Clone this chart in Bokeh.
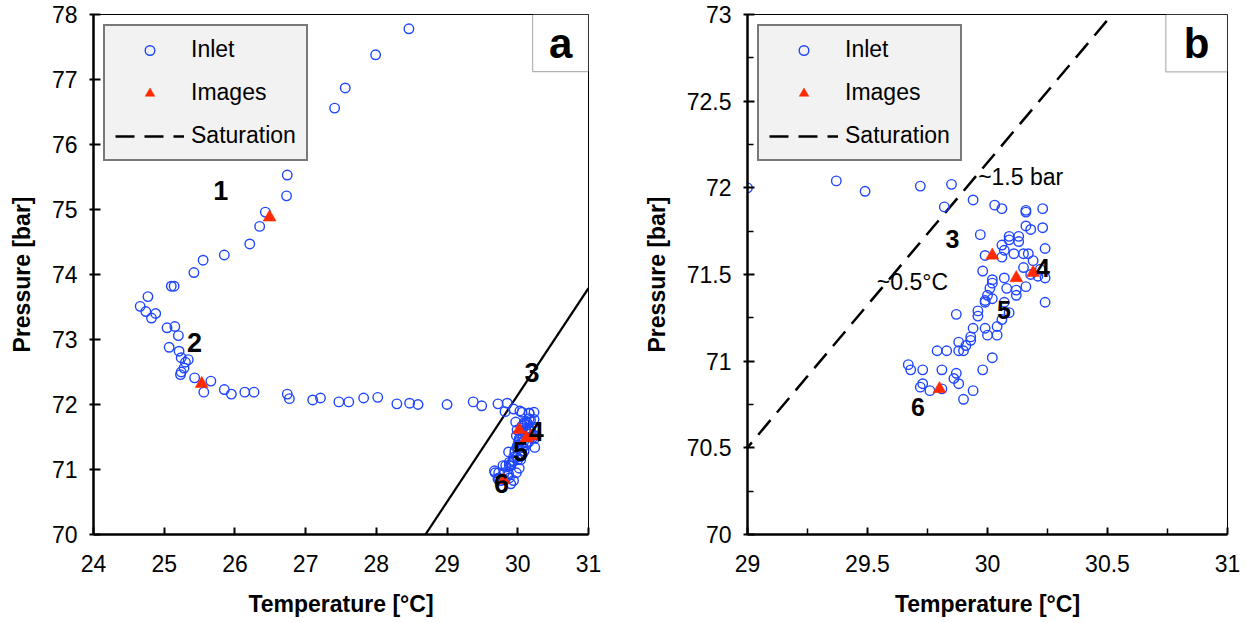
from bokeh.plotting import figure
from bokeh.models import (Legend, LegendItem, Label, BoxAnnotation, FixedTicker,
                          Range1d, CustomJSTickFormatter)
from bokeh.layouts import row
from bokeh.embed import file_html
from bokeh.resources import INLINE

# ---------------- data ----------------
inlet_T = [28.46, 27.99, 27.56, 27.41, 26.88, 26.93, 26.74, 26.73, 26.43, 26.35,
           26.21, 25.85, 25.55, 25.42, 25.14, 25.10, 24.77, 24.66, 24.74, 24.88,
           24.82, 25.04, 25.15, 25.20, 25.07, 25.21, 25.24, 25.34, 25.30, 25.28,
           25.24, 25.23, 25.43, 25.66, 25.56, 25.85, 25.95, 26.14, 26.27, 26.74,
           26.77, 27.10, 27.21, 27.47, 27.61, 27.82, 28.02, 28.29, 28.47, 28.59,
           29.00,
           29.37, 29.49, 29.72, 29.85, 29.82, 29.94, 30.03, 30.06, 30.16, 30.16,
           30.23, 30.16, 30.18, 30.23, 29.97, 30.09, 30.13, 30.09, 30.06, 30.13,
           30.24, 30.07, 30.11, 30.15, 30.17, 29.99, 30.06, 30.19, 30.15, 30.22,
           30.21, 30.24, 30.18, 29.98, 30.02, 30.07, 30.02, 30.01, 30.08, 30.16,
           30.12, 30.12, 30.00, 29.99, 30.02, 29.99, 30.24, 30.07, 29.96, 29.87,
           29.96, 30.09, 30.06, 30.04, 29.94, 29.99, 30.00, 30.04, 29.93, 29.93,
           29.88, 29.91, 29.90, 29.88, 29.79, 29.83, 30.02, 29.98, 29.67, 29.68,
           29.73, 29.81, 29.87, 29.86, 29.88, 29.73, 29.72, 29.76, 29.81, 29.94,
           29.90]
inlet_P = [77.78, 77.38, 76.87, 76.56, 76.07, 75.83, 75.53, 75.21, 74.96, 74.74,
           74.47, 74.30, 74.22, 74.03, 73.82, 73.82, 73.66, 73.51, 73.43, 73.40,
           73.33, 73.18, 73.20, 73.06, 72.88, 72.82, 72.72, 72.69, 72.65, 72.56,
           72.50, 72.46, 72.41, 72.36, 72.19, 72.23, 72.16, 72.19, 72.19, 72.16,
           72.09, 72.07, 72.10, 72.04, 72.04, 72.10, 72.11, 72.01, 72.02, 72.00,
           72.00,
           72.04, 71.98, 72.01, 72.02, 71.89, 71.93, 71.90, 71.88, 71.86, 71.87,
           71.88, 71.78, 71.76, 71.77, 71.73, 71.72, 71.72, 71.70, 71.67, 71.69,
           71.65, 71.64, 71.62, 71.62, 71.62, 71.61, 71.60, 71.58, 71.54, 71.53,
           71.49, 71.48, 71.50, 71.52, 71.47, 71.48, 71.45, 71.42, 71.42, 71.43,
           71.41, 71.38, 71.38, 71.35, 71.36, 71.34, 71.34, 71.34, 71.29, 71.27,
           71.26, 71.28, 71.24, 71.20, 71.19, 71.19, 71.15, 71.15, 71.14, 71.12,
           71.11, 71.09, 71.06, 71.06, 71.06, 71.06, 71.02, 70.95, 70.98, 70.95,
           70.95, 70.95, 70.93, 70.90, 70.87, 70.87, 70.85, 70.83, 70.84, 70.83,
           70.78]
images_T = [26.49, 25.53, 30.02, 30.19, 30.12, 29.80]
images_P = [74.88, 72.32, 71.61, 71.51, 71.48, 70.84]
sat_T = [28.5, 31.0]
sat_P = [69.68, 73.79]

a_ticks_x = [24, 25, 26, 27, 28, 29, 30, 31]
a_ticks_y = [70, 71, 72, 73, 74, 75, 76, 77, 78]
b_ticks_x = [29, 29.5, 30, 30.5, 31]
b_minor_x = [29.25, 29.75, 30.25, 30.75]
b_ticks_y = [70, 70.5, 71, 71.5, 72, 72.5, 73]
b_minor_y = [70.25, 70.75, 71.25, 71.75, 72.25, 72.75]

FONT = "Liberation Sans"
BLUE = "#1f46ff"
RED = "#ff2a00"
fmt = CustomJSTickFormatter(code="return String(tick)")


def style_axes(p, xt, yt, xminor=None, yminor=None):
    p.xaxis.ticker = FixedTicker(ticks=xt, minor_ticks=xminor or [])
    p.yaxis.ticker = FixedTicker(ticks=yt, minor_ticks=yminor or [])
    for ax in (p.xaxis[0], p.yaxis[0]):
        ax.formatter = fmt
        ax.axis_line_width = 2.5
        ax.axis_line_color = "black"
        ax.major_tick_line_width = 2
        ax.major_tick_line_color = "black"
        ax.minor_tick_line_width = 1.5
        ax.minor_tick_line_color = "black"
        ax.major_tick_in = 7
        ax.minor_tick_in = 6
        ax.minor_tick_out = 0
        ax.major_label_text_font = FONT
        ax.major_label_text_font_size = "23px"
        ax.major_label_text_color = "black"
        ax.axis_label_text_font = FONT
        ax.axis_label_text_font_size = "23px"
        ax.axis_label_text_font_style = "bold"
        ax.axis_label_text_color = "black"
    p.xaxis.major_tick_out = 0
    p.yaxis.major_tick_out = 4
    p.xaxis.major_label_standoff = 20
    p.yaxis.major_label_standoff = 12
    p.xaxis.axis_label_standoff = 16
    p.yaxis.axis_label_standoff = 14
    p.xgrid.visible = False
    p.ygrid.visible = False
    p.outline_line_color = "black"
    p.outline_line_width = 1
    p.background_fill_color = "white"
    p.border_fill_color = "white"


def add_legend(p, rc, rt, rl):
    leg = Legend(items=[LegendItem(label="Inlet", renderers=[rc]),
                        LegendItem(label="Images", renderers=[rt]),
                        LegendItem(label="Saturation", renderers=[rl])],
                 location="top_left", margin=10, padding=10, spacing=16,
                 glyph_width=69, glyph_height=24, label_height=24, label_standoff=7,
                 border_line_color="black", border_line_width=2,
                 background_fill_color="#f2f2f2", background_fill_alpha=1,
                 label_text_font=FONT, label_text_font_size="23px",
                 label_text_color="black")
    p.add_layout(leg)


def add_box(p, left, right, bottom, top, txt):
    p.add_layout(BoxAnnotation(left=left, right=right, bottom=bottom, top=top,
                               fill_color="white", fill_alpha=1,
                               line_color="black", line_width=1.2))
    p.add_layout(Label(x=(left + right) / 2, y=(bottom + top) / 2, text=txt,
                       text_font=FONT, text_font_size="42px", text_font_style="bold",
                       text_align="center", text_baseline="middle", text_color="black"))


def num_label(p, x, y, txt, size):
    p.add_layout(Label(x=x, y=y, text=txt, text_font=FONT, text_font_size=size,
                       text_font_style="bold", text_align="center",
                       text_baseline="middle", text_color="black"))


# ---------------- panel a ----------------
pa = figure(width=640, height=623, x_range=Range1d(24, 31), y_range=Range1d(70, 78),
            output_backend="svg", toolbar_location=None,
            min_border_left=93, min_border_right=52, min_border_top=14, min_border_bottom=89,
            x_axis_label="Temperature [°C]", y_axis_label="Pressure [bar]")
style_axes(pa, a_ticks_x, a_ticks_y)
pa.line(sat_T, sat_P, line_color="black", line_width=2.2)
# legend sample for the saturation curve (drawn off-range, only its legend glyph shows)
dummy = pa.line([0, 1], [0, 1], line_color="black", line_width=2.5, line_dash="19 10")
ca = pa.scatter(inlet_T, inlet_P, marker="circle", size=9.5, line_color=BLUE,
                fill_color=None, line_width=1.4)
ta = pa.scatter(images_T, images_P, marker="triangle", size=13, fill_color=RED,
                line_color=RED, line_width=0.5)
add_legend(pa, ca, ta, dummy)
add_box(pa, 30.21, 31.0, 77.12, 78.0, "a")
for x, y, t in [(25.80, 75.29, "1"), (25.43, 72.96, "2"), (30.20, 72.50, "3"),
                (30.26, 71.59, "4"), (30.04, 71.27, "5"), (29.77, 70.78, "6")]:
    num_label(pa, x, y, t, "27px")

# ---------------- panel b ----------------
pb = figure(width=607, height=623, x_range=Range1d(29, 31), y_range=Range1d(70, 73),
            output_backend="svg", toolbar_location=None,
            min_border_left=105, min_border_right=20, min_border_top=12, min_border_bottom=86,
            x_axis_label="Temperature [°C]", y_axis_label="Pressure [bar]")
style_axes(pb, b_ticks_x, b_ticks_y, b_minor_x, b_minor_y)
lb = pb.line(sat_T, sat_P, line_color="black", line_width=2.5, line_dash="19 10")
cb = pb.scatter(inlet_T, inlet_P, marker="circle", size=9.5, line_color=BLUE,
                fill_color=None, line_width=1.4)
tb = pb.scatter(images_T, images_P, marker="triangle", size=13, fill_color=RED,
                line_color=RED, line_width=0.5)
add_legend(pb, cb, tb, lb)
add_box(pb, 30.743, 31.0, 72.669, 73.0, "b")
for x, y, t in [(29.854, 71.703, "3"), (30.231, 71.535, "4"),
                (30.069, 71.297, "5"), (29.710, 70.735, "6")]:
    num_label(pb, x, y, t, "25px")
pb.add_layout(Label(x=29.961, y=72.063, text="~1.5 bar", text_font=FONT,
                    text_font_size="23px", text_align="left", text_baseline="middle",
                    text_color="black"))
pb.add_layout(Label(x=29.539, y=71.459, text="~0.5°C", text_font=FONT,
                    text_font_size="23px", text_align="left", text_baseline="middle",
                    text_color="black"))

layout = row(pa, pb)
open("out.html", "w").write(file_html(layout, INLINE))
